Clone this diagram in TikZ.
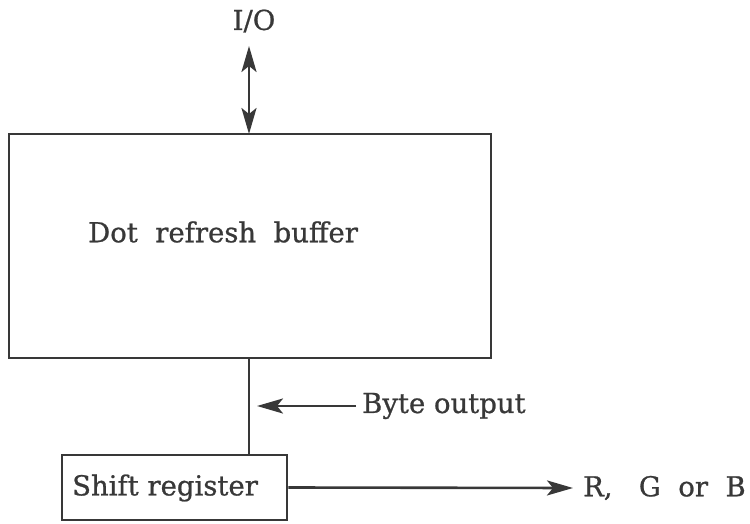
\documentclass[tikz,border=0pt]{standalone}
\usepackage{fontspec}
\setmainfont{DejaVu Serif}[FakeBold=0.8]
\usetikzlibrary{arrows.meta}
\begin{document}
\begin{tikzpicture}[x=1pt,y=-1pt,
  blk/.style={draw=black!78, line width=2.8pt},
  wire/.style={draw=black!78, line width=2.6pt},
  tipshape/.tip={Stealth[length=26pt,width=15pt,inset=6pt]},
  tip/.style={-tipshape},
  lbl/.style={inner sep=0pt, font=\fontsize{27.5}{32}\selectfont, text=black!78}]
\useasboundingbox (0,0) rectangle (750,524);
\path[blk] (9,134) rectangle (491,358);
\node[lbl, anchor=west] (buftext) at (88,232) {Dot\ \ refresh\ \ buffer};
\coordinate (buftop) at (249,134);
\coordinate (bufbot) at (249,358);
\node[lbl] (io) at (254,21) {I/O};
\coordinate (iotop) at (249,46);
\draw[wire, tipshape-tipshape] (iotop) -- (buftop);
\node[draw=black!78, line width=2.8pt, minimum width=225pt, minimum height=65pt, inner sep=0pt] (sr) at (174.5,487.5) {};
\node[lbl, anchor=west] (srtext) at (72,488) {Shift register};
\draw[wire] (bufbot) -- (bufbot |- sr.north);
\node[lbl, anchor=west] (byte) at (362,406) {Byte\ output};
\coordinate (byteend) at (257,406);
\draw[wire, tip] ([xshift=-6pt]byte.west) -- (byteend);
\node[lbl, anchor=west] (rgb) at (583,488) {R,\ \ \ G\ \ or\ \ B};
\draw[wire, tip] (sr.east) -- ([xshift=-10pt]rgb.west);
\end{tikzpicture}
\end{document}
